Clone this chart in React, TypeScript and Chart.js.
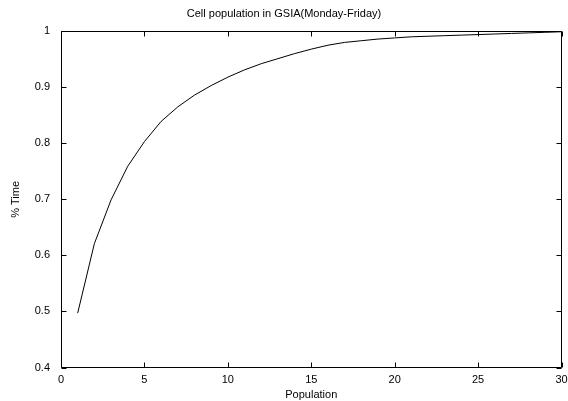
import React, { useEffect, useRef } from "react";
import { Chart, registerables } from "chart.js";

Chart.register(...registerables);

const populations: number[] = [1, 2, 3, 4, 5, 6, 7, 8, 9, 10, 11, 12, 13, 14, 15, 16, 17, 18, 19, 20, 21, 22, 23, 24, 25, 26, 27, 28, 29, 30];
const timeShare: number[] = [0.497, 0.621, 0.699, 0.759, 0.803, 0.839, 0.865, 0.886, 0.903, 0.918, 0.931, 0.942, 0.951, 0.960, 0.968, 0.975, 0.980, 0.983, 0.986, 0.988, 0.990, 0.991, 0.992, 0.993, 0.994, 0.995, 0.996, 0.997, 0.998, 0.999];

const chartTitle = "Cell population in GSIA(Monday-Friday)";
const xTitle = "Population";
const yTitle = "% Time";

const FONT = "'Liberation Sans', Arial, sans-serif";

const framePlugin = {
  id: "gnuFrame",
  afterDatasetsDraw(chart: any) {
    const { ctx, chartArea } = chart;
    const { left, right, top, bottom } = chartArea;
    const xs = chart.scales.x;
    const ys = chart.scales.y;
    const tl = 5;
    ctx.save();
    ctx.strokeStyle = "#000";
    ctx.lineWidth = 1;
    ctx.beginPath();
    const L = Math.round(left) + 0.5;
    const R = Math.round(right) - 0.5;
    const T = Math.round(top) + 0.5;
    const B = Math.round(bottom) - 0.5;
    ctx.rect(L, T, R - L, B - T);
    xs.ticks.forEach((t: any) => {
      const px = Math.round(xs.getPixelForValue(t.value)) + 0.5;
      ctx.moveTo(px, B);
      ctx.lineTo(px, B - tl);
      ctx.moveTo(px, T);
      ctx.lineTo(px, T + tl);
    });
    ys.ticks.forEach((t: any) => {
      const py = Math.round(ys.getPixelForValue(t.value)) + 0.5;
      ctx.moveTo(L, py);
      ctx.lineTo(L + tl, py);
      ctx.moveTo(R, py);
      ctx.lineTo(R - tl, py);
    });
    ctx.stroke();
    ctx.restore();
  },
};

export default function App() {
  const ref = useRef<HTMLCanvasElement | null>(null);

  useEffect(() => {
    document.body.style.margin = "0";
    const canvas = ref.current;
    if (!canvas) return;
    const chart = new Chart(canvas, {
      type: "line",
      data: {
        datasets: [
          {
            data: populations.map((p, i) => ({ x: p, y: timeShare[i] })),
            borderColor: "#000",
            borderWidth: 1,
            pointRadius: 0,
            tension: 0,
            fill: false,
          },
        ],
      },
      options: {
        responsive: false,
        animation: false,
        layout: { padding: { left: 0, right: 0, top: 0, bottom: 0 } },
        plugins: {
          legend: { display: false },
          tooltip: { enabled: false },
          title: {
            display: true,
            text: chartTitle,
            color: "#000",
            font: { family: FONT, size: 11, weight: "normal" },
            padding: { top: 7, bottom: 11 },
          },
        },
        scales: {
          x: {
            type: "linear",
            min: 0,
            max: 30,
            border: { display: false },
            grid: { display: false, drawTicks: false },
            ticks: {
              stepSize: 5,
              color: "#000",
              padding: 6,
              maxRotation: 0,
              font: { family: FONT, size: 11 },
            },
            title: {
              display: true,
              text: xTitle,
              color: "#000",
              font: { family: FONT, size: 11 },
              padding: { top: 0, bottom: -1 },
            },
            afterFit(scale: any) {
              scale.height = 33.5;
              scale.paddingRight = 6.5;
              scale.paddingLeft = 0;
            },
          },
          y: {
            type: "linear",
            min: 0.4,
            max: 1,
            border: { display: false },
            grid: { display: false, drawTicks: false },
            ticks: {
              stepSize: 0.1,
              color: "#000",
              padding: 11,
              font: { family: FONT, size: 11 },
              callback: (v: any) => String(Number(Number(v).toFixed(1))),
            },
            title: {
              display: true,
              text: yTitle,
              color: "#000",
              font: { family: FONT, size: 11 },
              padding: { top: 9, bottom: 0 },
            },
            afterFit(scale: any) {
              scale.width = 61;
            },
          },
        },
      },
      plugins: [framePlugin],
    });
    return () => chart.destroy();
  }, []);

  return (
    <div style={{ position: "absolute", left: 0, top: 0, width: 568, height: 401, background: "#fff" }}>
      <canvas ref={ref} width={568} height={401} style={{ display: "block" }} />
    </div>
  );
}
